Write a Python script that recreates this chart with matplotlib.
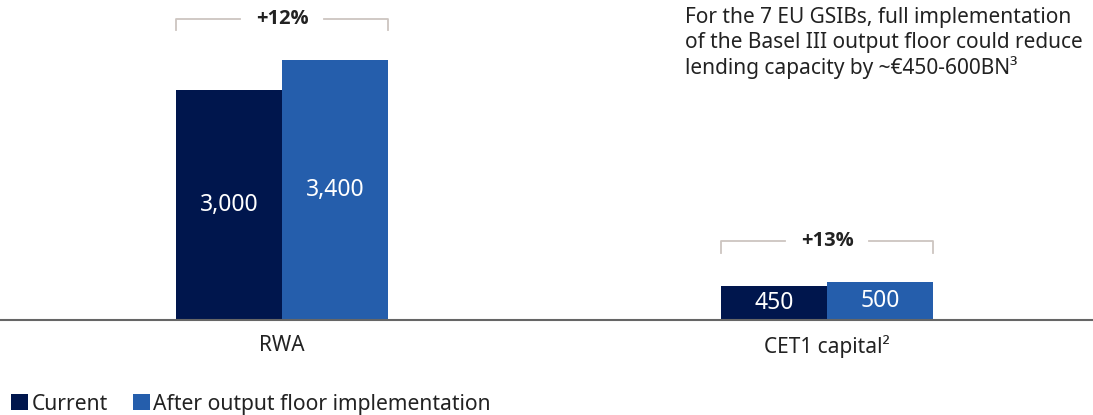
import numpy as np
import matplotlib.pyplot as plt

plt.rcParams['font.family'] = ['Noto Sans', 'DejaVu Sans']

# Data
categories = ['RWA', 'CET1 capital\u00b2']
current = [3000, 450]
after_floor = [3400, 500]
changes = ['+12%', '+13%']
series_names = ['Current', 'After output floor implementation']

DARK = '#00164d'
BLUE = '#255eac'
BRACKET = '#cdc5c0'
TEXT = '#222222'

fig = plt.figure(figsize=(10.93, 4.15), dpi=100)
ax = fig.add_axes([0, 95 / 415, 1, 320 / 415])

x = np.arange(len(categories))
w = 106 / 545

b1 = ax.bar(x - w / 2, current, w, color=DARK, label=series_names[0])
b2 = ax.bar(x + w / 2, after_floor, w, color=BLUE, label=series_names[1])

# value labels inside bars
for bars in (b1, b2):
    for rect in bars:
        h = rect.get_height()
        ax.text(rect.get_x() + rect.get_width() / 2, h / 2, f'{h:,.0f}',
                ha='center', va='center', color='white', fontsize=16.5)

# brackets with percentage change
for xi, c, a, lab in zip(x, current, after_floor, changes):
    top = max(c, a) + 530
    tick = 150
    left, right = xi - w, xi + w
    gap = 0.4 * w
    ax.plot([left, left, xi - gap], [top - tick, top, top], color=BRACKET, lw=1.3)
    ax.plot([xi + gap, right, right], [top, top, top - tick], color=BRACKET, lw=1.3)
    ax.text(xi, top, lab, ha='center', va='center', fontsize=14.5,
            fontweight='bold', color=TEXT, family=['Open Sans', 'DejaVu Sans'])

ax.set_xlim(-282 / 545, 1 + 266 / 545)
ax.set_ylim(0, 320 / 0.0766)
for s in ['top', 'right', 'left']:
    ax.spines[s].set_visible(False)
ax.spines['bottom'].set_color('#666666')
ax.spines['bottom'].set_linewidth(1.5)
ax.set_yticks([])
ax.set_xticks(x)
ax.set_xticklabels(categories, fontsize=15, color=TEXT)
ax.tick_params(axis='x', length=0, pad=11)

fig.text(685 / 1093, 1 - 7 / 415,
         'For the 7 EU GSIBs, full implementation\n'
         'of the Basel III output floor could reduce\n'
         'lending capacity by ~\u20ac450-600BN\u00b3',
         ha='left', va='top', fontsize=15, color=TEXT, linespacing=1.22)

fig.legend(handles=[b1, b2], loc='lower left', bbox_to_anchor=(-0.007, -0.045),
           ncol=2, frameon=False, fontsize=15.2, handlelength=0.8,
           handleheight=0.8, handletextpad=0.15, columnspacing=1.2,
           labelcolor=TEXT)

fig.savefig('out.png', dpi=100)
